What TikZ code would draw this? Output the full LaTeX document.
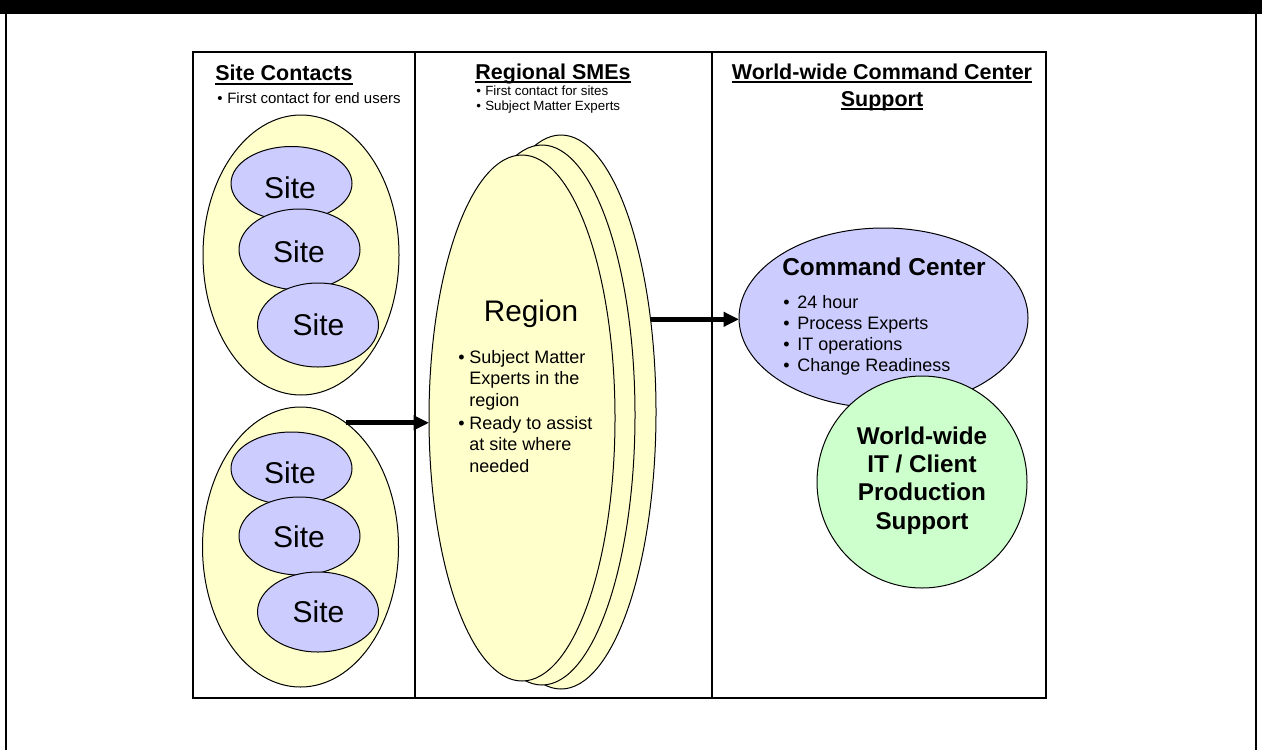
\documentclass[tikz,border=0pt]{standalone}
\usepackage{fontspec}
\setmainfont{Liberation Sans}
\usetikzlibrary{shapes.geometric, arrows.meta}

\definecolor{paleyellow}{HTML}{FFFFCC}
\definecolor{lavender}{HTML}{CCCCFF}
\definecolor{palegreen}{HTML}{CCFFCC}

% heading text with a heavy underline
\newsavebox\hdbox
\newcommand\hdul[1]{\sbox\hdbox{#1}\rlap{\rule[-0.19em]{\wd\hdbox}{0.09em}}\usebox\hdbox}

\tikzset{
  blob/.style={ellipse, draw=black, line width=0.75pt, inner sep=0pt, outer sep=0pt},
  grp/.style={blob, fill=paleyellow, minimum width=147pt, minimum height=210pt},
  site/.style={blob, fill=lavender, minimum width=90.75pt},
  region/.style={blob, fill=paleyellow},
  hd/.style={anchor=base, inner sep=0pt, font=\fontsize{16.1pt}{20pt}\selectfont\bfseries},
  sitelbl/.style={anchor=base, inner sep=0pt, font=\fontsize{22.5pt}{27pt}\selectfont},
  pline/.style={anchor=base west, inner sep=0pt},
  flow/.style={line width=3.75pt, -{Triangle[length=11.5pt, width=10.5pt]}},
  rule/.style={line width=1.5pt}
}

\begin{document}
\begin{tikzpicture}[x=0.75pt, y=-0.75pt]
\useasboundingbox (0,0) rectangle (1262,750);

% page frame
\fill[black] (0,0) rectangle (1262,14);
\draw[line width=1.1pt] (6,14) -- (6,750);
\draw[line width=1.1pt] (1256,14) -- (1256,750);

% three-column table
\draw[rule] (193,52) rectangle (1046,698);
\draw[rule] (415,52) -- (415,698);
\draw[rule] (712,52) -- (712,698);

% column headings
\node[hd] (hsite) at (284,80.5) {\hdul{Site Contacts}};
\node[hd] (hsme) at (553,79) {\hdul{Regional SMEs}};
\node[hd] (hww1) at (882,79) {\hdul{World-wide Command Center}};
\node[hd] (hww2) at (882,106) {\hdul{Support}};

\node[pline, font=\fontsize{11.25pt}{13pt}\selectfont] (bsite) at (217,103)
  {\makebox[7.5pt][l]{•}First contact for end users};
\node[pline, font=\fontsize{10pt}{12pt}\selectfont] (bsme1) at (476,95.5)
  {\makebox[6.75pt][l]{•}First contact for sites};
\node[pline, font=\fontsize{10pt}{12pt}\selectfont] (bsme2) at (476,110.5)
  {\makebox[6.75pt][l]{•}Subject Matter Experts};

% site groups
\node[grp] (grpA) at (301,255) {};
\node[site, minimum height=55.5pt] (sA1) at (291.5,183.5) {};
\node[site, minimum height=60.75pt] (sA2) at (299.5,249.5) {};
\node[site, minimum height=63pt] (sA3) at (318,325) {};
\node[sitelbl] (lA1) at (290,198) {Site};
\node[sitelbl] (lA2) at (299,262) {Site};
\node[sitelbl] (lA3) at (318.5,335) {Site};

\node[grp] (grpB) at (300.5,547) {};
\node[site, minimum height=54.75pt] (sB1) at (291.5,468.5) {};
\node[site, minimum height=58.5pt] (sB2) at (299.5,536) {};
\node[site, minimum height=60pt] (sB3) at (318,612) {};
\node[sitelbl] (lB1) at (290,483) {Site};
\node[sitelbl] (lB2) at (299,547) {Site};
\node[sitelbl] (lB3) at (318.5,622) {Site};

% stacked regions
\node[region, minimum width=142.5pt, minimum height=415.5pt] (regC) at (561,412) {};
\node[region, minimum width=139.5pt, minimum height=405pt] (regB) at (542,415) {};
\node[region, minimum width=139.5pt, minimum height=394.5pt] (regA) at (522,418) {};
\node[anchor=base, inner sep=0pt, font=\fontsize{22.3pt}{27pt}\selectfont] (rname) at (531,321) {Region};

\begin{scope}[every node/.style={pline, font=\fontsize{13.5pt}{16pt}\selectfont}]
\node (r1) at (458,363)   {\makebox[8.25pt][l]{•}Subject Matter};
\node (r2) at (458,384.5) {\hspace*{8.25pt}Experts in the};
\node (r3) at (458,406)   {\hspace*{8.25pt}region};
\node (r4) at (458,429)   {\makebox[8.25pt][l]{•}Ready to assist};
\node (r5) at (458,450.5) {\hspace*{8.25pt}at site where};
\node (r6) at (458,472)   {\hspace*{8.25pt}needed};
\end{scope}

% command center and production support
\node[blob, fill=lavender, minimum width=216.75pt, minimum height=135pt] (cmd) at (883.5,318) {};
\node[anchor=base, inner sep=0pt, font=\fontsize{18.3pt}{22pt}\selectfont\bfseries] (cmdt) at (884,275) {Command Center};
\begin{scope}[every node/.style={pline, font=\fontsize{13.5pt}{16pt}\selectfont}]
\node (c1) at (783,308) {\makebox[10.5pt][l]{•}24 hour};
\node (c2) at (783,329) {\makebox[10.5pt][l]{•}Process Experts};
\node (c3) at (783,350) {\makebox[10.5pt][l]{•}IT operations};
\node (c4) at (783,371) {\makebox[10.5pt][l]{•}Change Readiness};
\end{scope}

\node[blob, fill=palegreen, minimum width=157.5pt, minimum height=159pt] (prod) at (922,482) {};
\begin{scope}[every node/.style={anchor=base, inner sep=0pt, font=\fontsize{18.2pt}{22pt}\selectfont\bfseries}]
\node (p1) at (922,444)   {World-wide};
\node (p2) at (922,472)   {IT / Client};
\node (p3) at (922,500.5) {Production};
\node (p4) at (922,529)   {Support};
\end{scope}

% escalation arrows
\draw[flow] (grpB.70) -- (grpB.70 -| regA.west);
\draw[flow] (regC.46) -- (regC.46 -| cmd.west);
\end{tikzpicture}
\end{document}
